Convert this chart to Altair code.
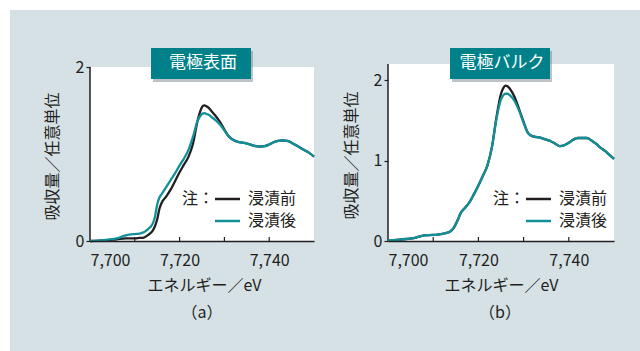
import altair as alt
import pandas as pd

# ---------------- data ----------------
energy = [7700, 7702, 7704, 7706, 7708, 7710, 7711, 7712, 7713, 7714,
          7714.5, 7715, 7715.5, 7716, 7717, 7718, 7719, 7720, 7721, 7722,
          7723, 7724, 7725, 7725.5, 7726, 7726.5, 7727, 7728, 7729, 7730,
          7731, 7732, 7733, 7734, 7735, 7736, 7737, 7738, 7739, 7740,
          7741, 7742, 7743, 7744, 7745, 7746, 7747, 7748, 7749, 7750]

a_before = [0.00, 0.005, 0.01, 0.02, 0.03, 0.03, 0.035, 0.04, 0.07, 0.12,
            0.17, 0.25, 0.37, 0.44, 0.51, 0.59, 0.69, 0.79, 0.88, 0.97,
            1.12, 1.38, 1.54, 1.56, 1.55, 1.53, 1.50, 1.44, 1.37, 1.28,
            1.20, 1.16, 1.14, 1.13, 1.12, 1.105, 1.09, 1.085, 1.09, 1.11,
            1.135, 1.15, 1.155, 1.15, 1.13, 1.10, 1.07, 1.04, 1.01, 0.97]
a_after = [0.00, 0.005, 0.015, 0.03, 0.065, 0.08, 0.085, 0.10, 0.14, 0.20,
           0.28, 0.42, 0.50, 0.54, 0.62, 0.70, 0.78, 0.87, 0.95, 1.05,
           1.20, 1.38, 1.46, 1.47, 1.46, 1.45, 1.43, 1.39, 1.34, 1.27,
           1.20, 1.16, 1.14, 1.13, 1.12, 1.105, 1.09, 1.085, 1.09, 1.11,
           1.135, 1.15, 1.155, 1.15, 1.13, 1.10, 1.07, 1.04, 1.01, 0.97]
b_before = [0.01, 0.015, 0.025, 0.04, 0.07, 0.075, 0.08, 0.09, 0.10, 0.13,
            0.16, 0.21, 0.27, 0.34, 0.41, 0.48, 0.58, 0.69, 0.81, 0.94,
            1.17, 1.54, 1.83, 1.90, 1.93, 1.92, 1.89, 1.79, 1.64, 1.48,
            1.34, 1.30, 1.29, 1.28, 1.26, 1.24, 1.21, 1.18, 1.19, 1.22,
            1.26, 1.28, 1.28, 1.28, 1.25, 1.21, 1.16, 1.12, 1.07, 1.02]
b_after = [0.01, 0.015, 0.025, 0.04, 0.07, 0.075, 0.08, 0.09, 0.10, 0.13,
           0.16, 0.21, 0.27, 0.34, 0.41, 0.48, 0.58, 0.69, 0.81, 0.94,
           1.17, 1.52, 1.76, 1.81, 1.83, 1.83, 1.81, 1.74, 1.62, 1.47,
           1.34, 1.30, 1.29, 1.28, 1.26, 1.24, 1.21, 1.18, 1.19, 1.22,
           1.26, 1.28, 1.28, 1.28, 1.25, 1.21, 1.16, 1.12, 1.07, 1.02]

series_names = ["浸漬前", "浸漬後"]
x_tick_labels = [7700, 7720, 7740]
x_minor_ticks = [7710, 7720, 7730, 7740]
y_ticks = [0, 1, 2]
panel_titles = ["電極表面", "電極バルク"]
captions = ["（a）", "（b）"]
x_title = "エネルギー／eV"
y_title = "吸収量／任意単位"
note = "注："

FONT = "Noto Sans CJK JP"
TXT = "#231f20"
BLACK = "#231f20"
TEAL_LINE = "#12909a"
TEAL_BOX = "#00818a"
BG = "#d6e1e6"


def one_row():
    return alt.Data(values=[{"k": 0}])


def panel(before, after, w, h, ydom, title, caption, ytx, yty, xtx,
          box_x, leg_x, cap_x, draw_bg):
    xscale = alt.Scale(domain=[7700, 7750], nice=False, zero=False)
    yscale = alt.Scale(domain=[0, ydom], nice=False)
    xaxis = alt.Axis(values=x_tick_labels, format=",d", ticks=False,
                     domainColor=BLACK, domainWidth=1.5, labelPadding=11,
                     title=x_title, titleX=xtx, titleY=44,
                     titleBaseline="middle", titleAlign="center", zindex=2)
    yaxis = alt.Axis(values=y_ticks, format="d", domain=False, tickSize=4,
                     tickColor=BLACK, tickWidth=1.2, labelPadding=2,
                     title=y_title, titleX=ytx, titleY=yty,
                     titleBaseline="middle", titleAlign="center", zindex=2)

    df = pd.DataFrame({"E": energy, "before": before, "after": after})
    layers = []
    if draw_bg:
        layers.append(alt.Chart(one_row()).mark_rect(color=BG).encode(
            x=alt.value(-80), x2=alt.value(550),
            y=alt.value(-54), y2=alt.value(287)))
    frame = pd.DataFrame({"lo": [0], "hi": [2 if ydom < 2.1 else ydom]})
    layers.append(alt.Chart(frame).mark_rect(color="white").encode(
        x=alt.value(0), x2=alt.value(w),
        y=alt.Y("hi:Q", scale=yscale, axis=yaxis), y2="lo:Q"))
    layers.append(alt.Chart(frame).mark_rule(color=BLACK, strokeWidth=1.5).encode(
        x=alt.value(0),
        y=alt.Y("hi:Q", scale=yscale, axis=yaxis), y2="lo:Q"))
    ticks = pd.DataFrame({"t": x_minor_ticks})
    layers.append(alt.Chart(ticks).mark_rule(color=BLACK, strokeWidth=1.2).encode(
        x=alt.X("t:Q", scale=xscale, axis=xaxis),
        y=alt.value(h), y2=alt.value(h - 4)))
    for col, colr in (("before", BLACK), ("after", TEAL_LINE)):
        layers.append(alt.Chart(df).mark_line(
            color=colr, strokeWidth=2.3, interpolate="monotone").encode(
            x=alt.X("E:Q", scale=xscale, axis=xaxis),
            y=alt.Y(f"{col}:Q", scale=yscale, axis=yaxis)))
    # title box
    layers.append(alt.Chart(one_row()).mark_rect(color="#6d7a80", opacity=0.45).encode(
        x=alt.value(box_x + 2), x2=alt.value(box_x + 102),
        y=alt.value(-13), y2=alt.value(18)))
    layers.append(alt.Chart(one_row()).mark_rect(color=TEAL_BOX).encode(
        x=alt.value(box_x), x2=alt.value(box_x + 100),
        y=alt.value(-16), y2=alt.value(15)))
    layers.append(alt.Chart(one_row()).mark_text(
        font=FONT, fontSize=17, color="white", align="center",
        baseline="middle").encode(
        x=alt.value(box_x + 52), y=alt.value(-1), text=alt.value(title)))
    # legend
    layers.append(alt.Chart(one_row()).mark_text(
        font=FONT, fontSize=16, color=TXT, align="left",
        baseline="middle").encode(
        x=alt.value(leg_x), y=alt.value(135), text=alt.value(note)))
    for i, (nm, colr) in enumerate(zip(series_names, [BLACK, TEAL_LINE])):
        yy = 135 + 22 * i
        layers.append(alt.Chart(one_row()).mark_rule(
            color=colr, strokeWidth=2.5).encode(
            x=alt.value(leg_x + 33), x2=alt.value(leg_x + 58),
            y=alt.value(yy)))
        layers.append(alt.Chart(one_row()).mark_text(
            font=FONT, fontSize=16, color=TXT, align="left",
            baseline="middle").encode(
            x=alt.value(leg_x + 66), y=alt.value(yy), text=alt.value(nm)))
    # caption
    layers.append(alt.Chart(one_row()).mark_text(
        font=FONT, fontSize=16, color=TXT, align="center",
        baseline="middle").encode(
        x=alt.value(cap_x), y=alt.value(249), text=alt.value(caption)))
    return alt.layer(*layers).properties(width=w, height=h)


pa = panel(a_before, a_after, 224, 177, 2 * 177 / 174, panel_titles[0],
           captions[0], -38, 92, 114, 61, 92, 112, True)
pb = panel(b_before, b_after, 226, 177, 2.2, panel_titles[1],
           captions[1], -37, 91, 113, 62, 105, 112, False)

chart = alt.hconcat(pa, pb, spacing=74, bounds="flush").properties(
    background="white",
    padding={"left": 10, "top": 10, "right": 0, "bottom": 0},
).configure_view(stroke=None, fill=None).configure_axis(
    labelFont=FONT, titleFont=FONT, labelFontSize=16, titleFontSize=16,
    labelColor=TXT, titleColor=TXT, titleFontWeight="normal", grid=False,
)

chart.save("out.html", embed_options={"renderer": "svg", "actions": False})
